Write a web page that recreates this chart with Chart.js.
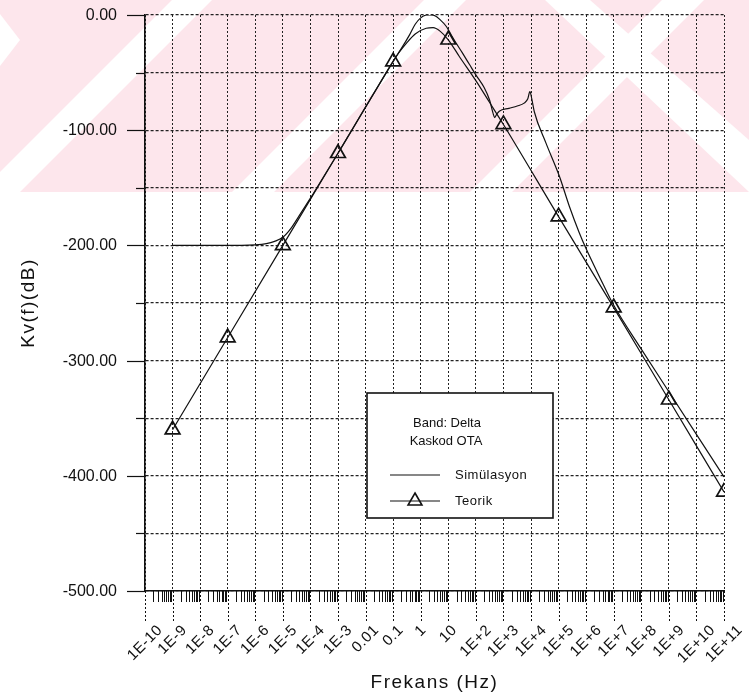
<!DOCTYPE html>
<html>
<head>
<meta charset="utf-8">
<script src="https://cdn.jsdelivr.net/npm/chart.js@4.4.0/dist/chart.umd.min.js"></script>
<style>
  html, body { margin: 0; padding: 0; background: #fff; }
</style>
</head>
<body>
<canvas id="kv" width="749" height="699"></canvas>
<script>
// frequency axis, one label per decade (log10 f from -10 to 11)
const firstDecade = -10;
const decadeLabels = ['1E-10', '1E-9', '1E-8', '1E-7', '1E-6', '1E-5', '1E-4', '1E-3', '0.01', '0.1', '1', '10',
  '1E+2', '1E+3', '1E+4', '1E+5', '1E+6', '1E+7', '1E+8', '1E+9', '1E+10', '1E+11'];
// gain axis, grid every 50 dB, labels every 100 dB
const dbGridLines = [-500, -450, -400, -350, -300, -250, -200, -150, -100, -50, 0];

// simulated gain: log10(f) and dB
const simLogF = [-9, -8, -7, -6.5, -6, -5.6, -5.3, -5, -4.7, -4.4, -4, -3.5, -3, -2.5, -2, -1.5, -1, -0.7, -0.4, -0.2,
  0, 0.2, 0.35, 0.5, 0.7, 0.93, 1.1, 1.3, 1.5, 1.77, 2, 2.3, 2.5, 2.62, 2.68, 2.76, 2.85, 3.2, 3.5, 3.75, 3.88, 3.96,
  4.03, 4.12, 4.54, 5.03, 5.39, 5.75, 6, 6.5, 7, 8, 9, 10, 11];
const simDb = [-200, -200, -200, -200, -199.6, -198.5, -196.5, -193, -185, -174, -159, -139.5, -120, -100, -80, -60, -40, -29, -17, -8,
  -2.5, 0, 0.3, -0.5, -4, -10, -17, -25, -32.5, -43, -52, -63, -74, -85, -89, -86, -83.5, -81, -79, -76.5, -73, -66.5,
  -73, -84, -111, -140, -166, -189, -203, -228, -252, -290, -327, -364, -401];

// theoretical gain: log10(f) and dB, triangles on the odd decades
const teorikLogF = [-9, -7, -5, -3, -1, -0.8, -0.5, -0.2, 0.2, 0.45, 0.7, 1, 1.4, 2, 2.5, 3, 5, 7, 9, 11];
const teorikDb = [-360, -280, -200, -120, -40.5, -33, -24, -16.5, -11.5, -11, -14, -21.5, -36, -57, -76, -95, -175, -254, -334, -414];
const teorikMarkLogF = [-9, -7, -5, -3, -1, 1, 3, 5, 7, 9, 11];

const legendTitle = ['Band: Delta', 'Kaskod OTA'];

const INK = '#111';
const FONT = '"Liberation Sans", Arial, sans-serif';

function drawTriangle(ctx, x, y, r) {
  // same geometry as Chart.js 'triangle' point style
  ctx.beginPath();
  ctx.moveTo(x, y - r);
  ctx.lineTo(x + Math.sin(2 * Math.PI / 3) * r, y + r / 2);
  ctx.lineTo(x - Math.sin(2 * Math.PI / 3) * r, y + r / 2);
  ctx.closePath();
  ctx.stroke();
}

const decor = {
  id: 'decor',
  beforeDraw(chart) {
    const { ctx, width } = chart;
    // faint pink stripes behind the upper part of the sheet
    ctx.save();
    ctx.fillStyle = '#fde6ec';
    ctx.fillRect(0, 0, width, 192);
    ctx.fillStyle = '#fff';
    [[-20, 40], [232, 42], [470, 42]].forEach(([b, w]) => {
      ctx.beginPath();
      ctx.moveTo(b, 192);
      ctx.lineTo(b + w, 192);
      ctx.lineTo(b + w + 192, 0);
      ctx.lineTo(b + 192, 0);
      ctx.closePath();
      ctx.fill();
    });
    ctx.beginPath();
    ctx.moveTo(545, 0);
    ctx.lineTo(590, 0);
    ctx.lineTo(749, 140);
    ctx.lineTo(749, 192);
    ctx.closePath();
    ctx.fill();
    ctx.beginPath();
    ctx.moveTo(0, 14);
    ctx.lineTo(20, 40);
    ctx.lineTo(0, 66);
    ctx.closePath();
    ctx.fill();
    ctx.restore();
    // axis titles are set a little wide
    ctx.letterSpacing = '1.5px';
  },
  afterDatasetsDraw(chart) {
    const { ctx } = chart;
    const bx = 367, by = 393, bw = 186, bh = 125;
    ctx.save();
    ctx.letterSpacing = '0px';
    ctx.fillStyle = '#fff';
    ctx.fillRect(bx, by, bw, bh);
    ctx.strokeStyle = INK;
    ctx.lineWidth = 1.6;
    ctx.strokeRect(bx, by, bw, bh);
    ctx.fillStyle = INK;
    ctx.font = '13px ' + FONT;
    ctx.textAlign = 'center';
    ctx.textBaseline = 'middle';
    ctx.fillText(legendTitle[0], bx + 80, by + 30);
    ctx.fillText(legendTitle[1], bx + 79, by + 48);
    ctx.letterSpacing = '0.5px';
    ctx.textAlign = 'left';
    const sets = chart.data.datasets;
    [0, 1].forEach(i => {
      const y = by + 82 + i * 26;
      ctx.lineWidth = 1.2;
      ctx.beginPath();
      ctx.moveTo(bx + 23, y);
      ctx.lineTo(bx + 73, y);
      ctx.stroke();
      if (i === 1) {
        ctx.lineWidth = 1.6;
        drawTriangle(ctx, bx + 48, y, 8);
      }
      ctx.fillText(sets[i].label, bx + 88, y);
    });
    ctx.restore();
  },
  afterDraw(chart) {
    const { ctx, scales: { x, y } } = chart;
    ctx.save();
    ctx.letterSpacing = '0px';
    ctx.strokeStyle = INK;
    ctx.fillStyle = INK;
    // gain tick marks (long on labelled values) and their labels
    ctx.lineWidth = 1.2;
    ctx.font = '16px ' + FONT;
    ctx.textAlign = 'right';
    ctx.textBaseline = 'middle';
    y.ticks.forEach(t => {
      const py = Math.round(y.getPixelForValue(t.value)) + 0.5;
      const major = t.value % 100 === 0;
      const len = major ? 18 : 9;
      ctx.beginPath();
      ctx.moveTo(x.left - len, py);
      ctx.lineTo(x.left, py);
      ctx.stroke();
      if (major) ctx.fillText(t.value.toFixed(2), x.left - 28, py);
    });
    // minor log ticks below the frequency axis
    ctx.lineWidth = 1;
    for (let n = firstDecade; n < firstDecade + decadeLabels.length - 1; n++) {
      for (let k = 2; k <= 9; k++) {
        const px = Math.round(x.getPixelForValue(n + Math.log10(k))) + 0.5;
        ctx.beginPath();
        ctx.moveTo(px, y.bottom);
        ctx.lineTo(px, y.bottom + 11);
        ctx.stroke();
      }
    }
    // decade lines continue below the axis
    ctx.setLineDash([2, 2]);
    x.ticks.forEach(t => {
      const px = Math.round(x.getPixelForValue(t.value)) + 0.5;
      ctx.beginPath();
      ctx.moveTo(px, y.bottom);
      ctx.lineTo(px, y.bottom + 30);
      ctx.stroke();
    });
    ctx.setLineDash([]);
    // decade labels, turned 45 degrees and centred under their line
    ctx.font = '15px ' + FONT;
    ctx.letterSpacing = '0.5px';
    ctx.textAlign = 'center';
    const top = y.bottom + 33;
    x.ticks.forEach((t, i) => {
      const label = decadeLabels[i];
      const w = ctx.measureText(label).width;
      const cx = x.getPixelForValue(t.value);
      const cy = top + (w + 11) * 0.3536;
      ctx.save();
      ctx.translate(cx, cy);
      ctx.rotate(-Math.PI / 4);
      ctx.fillText(label, 0, 0);
      ctx.restore();
    });
    ctx.restore();
  }
};

Chart.defaults.font.family = FONT;
Chart.defaults.color = INK;

new Chart(document.getElementById('kv'), {
  type: 'line',
  data: {
    datasets: [{
      label: 'Simülasyon',
      data: simLogF.map((v, i) => ({ x: v, y: simDb[i] })),
      borderColor: INK,
      borderWidth: 1.2,
      pointRadius: 0,
      cubicInterpolationMode: 'monotone'
    }, {
      label: 'Teorik',
      data: teorikLogF.map((v, i) => ({ x: v, y: teorikDb[i] })),
      borderColor: INK,
      borderWidth: 1.2,
      pointStyle: 'triangle',
      pointRadius: c => teorikMarkLogF.includes(teorikLogF[c.dataIndex]) ? 8.5 : 0,
      pointBorderWidth: 1.7,
      pointBorderColor: INK,
      pointBackgroundColor: 'rgba(0,0,0,0)',
      cubicInterpolationMode: 'monotone'
    }]
  },
  options: {
    responsive: false,
    animation: false,
    devicePixelRatio: 1,
    layout: { padding: { top: 15, right: 25, left: 0, bottom: 0 } },
    plugins: { legend: { display: false }, tooltip: { enabled: false } },
    scales: {
      x: {
        type: 'linear',
        min: firstDecade,
        max: firstDecade + decadeLabels.length - 1,
        afterBuildTicks: s => { s.ticks = decadeLabels.map((_, i) => ({ value: firstDecade + i })); },
        afterFit: s => { s.height = 108; },
        ticks: { display: false },
        grid: { color: '#222', lineWidth: 1, drawTicks: false },
        border: { display: true, color: INK, width: 1.6, dash: [2, 2] },
        title: {
          display: true,
          text: 'Frekans (Hz)',
          font: { size: 19 },
          padding: { top: 0, bottom: 5 }
        }
      },
      y: {
        min: -500,
        max: 0,
        afterBuildTicks: s => { s.ticks = dbGridLines.map(v => ({ value: v })); },
        afterFit: s => { s.width = 145; },
        ticks: { display: false },
        grid: { color: '#222', lineWidth: 1.2, drawTicks: false },
        border: { display: true, color: INK, width: 1.6, dash: [3, 2] },
        title: {
          display: true,
          text: 'Kv(f)(dB)',
          font: { size: 19 },
          padding: { top: 17, bottom: 0 }
        }
      }
    }
  },
  plugins: [decor]
});
</script>
</body>
</html>
